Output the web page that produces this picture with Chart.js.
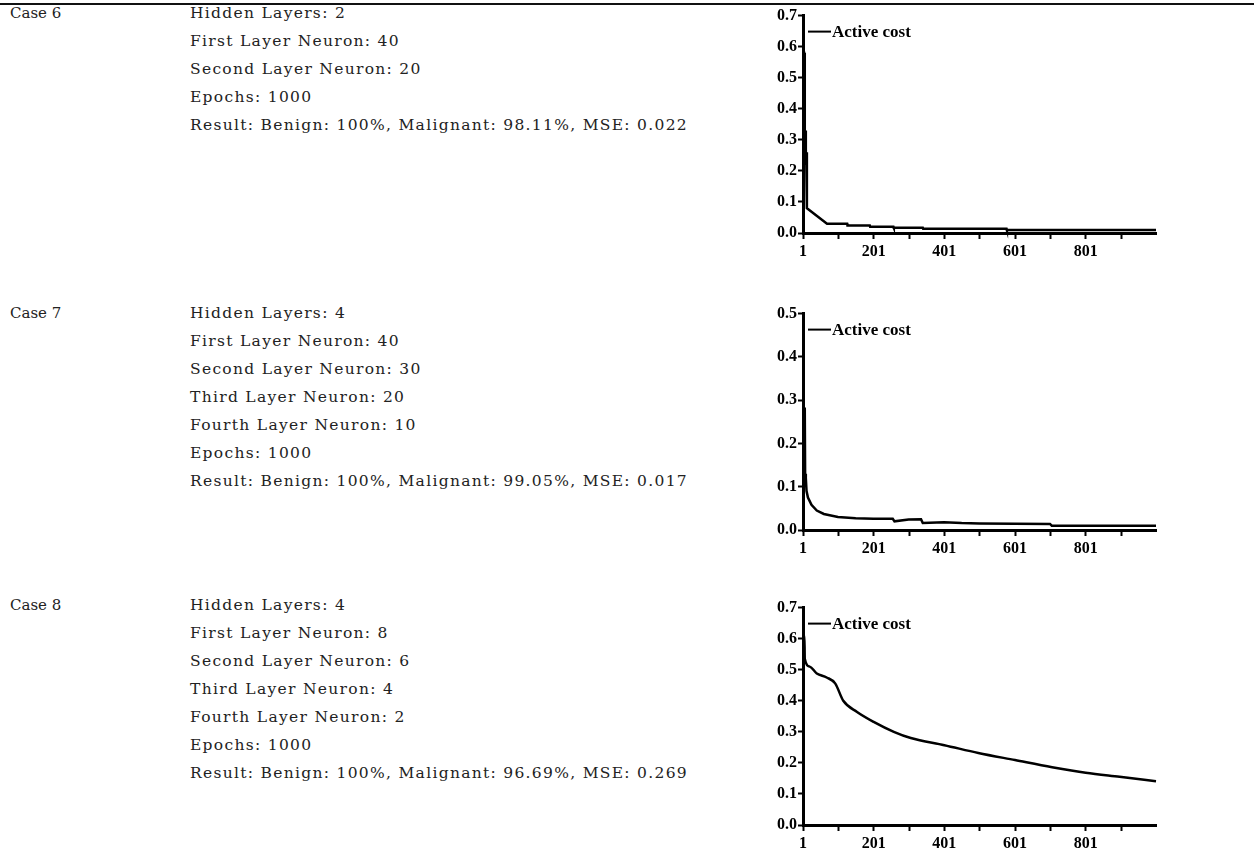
<!DOCTYPE html>
<html>
<head>
<meta charset="utf-8">
<script src="https://cdn.jsdelivr.net/npm/chart.js@4/dist/chart.umd.min.js"></script>
<style>
  html, body { margin: 0; padding: 0; background: #fff; }
  body { width: 1254px; height: 861px; position: relative; overflow: hidden; }
  .rule { position: absolute; left: 0; top: 3px; width: 1254px; height: 2px; background: #111; }
  .txt { position: absolute; font-family: "DejaVu Serif", serif; font-size: 15.5px; line-height: 20px; color: #222; white-space: nowrap; letter-spacing: 1.3px; }
  .txt.head { letter-spacing: 0; font-size: 15px; }
  canvas { position: absolute; }
</style>
</head>
<body>
<div class="rule"></div>
<div id="texts"></div>
<canvas id="chart6" width="423" height="258" style="left:743px;top:5px;width:423px;height:258px"></canvas>
<canvas id="chart7" width="423" height="257" style="left:743px;top:303px;width:423px;height:257px"></canvas>
<canvas id="chart8" width="423" height="258" style="left:743px;top:597px;width:423px;height:258px"></canvas>
<script>
// text rows of the table
const case6Lines = ['Hidden Layers: 2', 'First Layer Neuron: 40', 'Second Layer Neuron: 20', 'Epochs: 1000',
  'Result: Benign: 100%, Malignant: 98.11%, MSE: 0.022'];
const case7Lines = ['Hidden Layers: 4', 'First Layer Neuron: 40', 'Second Layer Neuron: 30', 'Third Layer Neuron: 20',
  'Fourth Layer Neuron: 10', 'Epochs: 1000', 'Result: Benign: 100%, Malignant: 99.05%, MSE: 0.017'];
const case8Lines = ['Hidden Layers: 4', 'First Layer Neuron: 8', 'Second Layer Neuron: 6', 'Third Layer Neuron: 4',
  'Fourth Layer Neuron: 2', 'Epochs: 1000', 'Result: Benign: 100%, Malignant: 96.69%, MSE: 0.269'];

// x axis ticks
const epochTicks = [1, 101, 201, 301, 401, 501, 601, 701, 801, 901];
const epochLabels = [1, 201, 401, 601, 801];

// Case 6 cost curve
const case6Epochs = [1, 4, 6, 7, 9, 10, 12, 15, 69, 126, 127, 190, 191, 257, 258, 340, 341, 577, 578, 1000];
const case6Cost = [0.58, 0.58, 0.22, 0.33, 0.25, 0.26, 0.08, 0.077, 0.03, 0.03, 0.024, 0.024, 0.02, 0.02, 0.017, 0.017, 0.014, 0.014, 0.01, 0.01];

// Case 7 cost curve
const case7Epochs = [1, 6, 7, 9, 11, 15, 25, 40, 60, 100, 150, 200, 255, 260, 300, 335, 340, 400, 450, 500, 700, 705, 1000];
const case7Cost = [0.28, 0.28, 0.13, 0.12, 0.09, 0.075, 0.058, 0.045, 0.037, 0.03, 0.027, 0.026, 0.026, 0.02, 0.024, 0.025, 0.016, 0.018, 0.016, 0.015, 0.014, 0.01, 0.01];

// Case 8 cost curve
const case8Epochs = [1, 5, 6, 20, 40, 68, 92, 115, 154, 201, 258, 306, 401, 497, 601, 706, 801, 897, 1000];
const case8Cost = [0.61, 0.61, 0.535, 0.51, 0.488, 0.475, 0.456, 0.4, 0.364, 0.332, 0.3, 0.28, 0.257, 0.232, 0.209, 0.186, 0.168, 0.155, 0.141];

function addRows(caseName, lines, top) {
  const box = document.getElementById('texts');
  const head = document.createElement('div');
  head.className = 'txt head';
  head.style.left = '10px';
  head.style.top = (top - 10) + 'px';
  head.textContent = caseName;
  box.appendChild(head);
  lines.forEach((line, i) => {
    const d = document.createElement('div');
    d.className = 'txt';
    d.style.left = '190px';
    d.style.top = (top - 10 + i * 28) + 'px';
    d.textContent = line;
    box.appendChild(d);
  });
}

addRows('Case 6', case6Lines, 13);
addRows('Case 7', case7Lines, 313);
addRows('Case 8', case8Lines, 605);

const legendLine = {
  id: 'legendLine',
  afterDraw(chart) {
    const ctx = chart.ctx;
    const a = chart.chartArea;
    const y = a.top + 16;
    ctx.save();
    ctx.strokeStyle = '#000';
    ctx.lineWidth = 2;
    ctx.beginPath();
    ctx.moveTo(a.left + 5, y);
    ctx.lineTo(a.left + 28, y);
    ctx.stroke();
    ctx.fillStyle = '#000';
    ctx.font = 'bold 17px "Liberation Serif"';
    ctx.textBaseline = 'middle';
    ctx.fillText('Active cost', a.left + 29, y + 1);
    ctx.restore();
  }
};

function makeChart(id, epochs, cost, yMax, smooth) {
  const yTicks = [];
  for (let i = 0; i <= Math.round(yMax * 10); i++) yTicks.push(i / 10);
  const points = epochs.map((e, i) => ({ x: e, y: cost[i] }));
  const tickFont = { family: 'Liberation Serif', size: 16, weight: 'bold' };
  return new Chart(document.getElementById(id), {
    type: 'line',
    data: {
      datasets: [{
        label: 'Active cost',
        data: points,
        borderColor: '#000',
        borderWidth: 2.5,
        pointRadius: 0,
        tension: smooth ? 0.4 : 0,
        cubicInterpolationMode: smooth ? 'monotone' : 'default',
        clip: false,
      }]
    },
    options: {
      responsive: false,
      animation: false,
      layout: { padding: { top: 10, right: 10, left: 0, bottom: 0 } },
      plugins: { legend: { display: false }, tooltip: { enabled: false } },
      scales: {
        x: {
          type: 'linear',
          min: 1,
          max: 1000,
          afterBuildTicks: (s) => { s.ticks = epochTicks.map(v => ({ value: v })); },
          afterFit: (s) => { s.height = 30; },
          ticks: {
            autoSkip: false,
            maxRotation: 0,
            padding: 3,
            color: '#000',
            font: tickFont,
            callback: (v) => epochLabels.includes(v) ? String(v) : '',
          },
          grid: { drawOnChartArea: false, drawTicks: true, tickLength: 6, tickWidth: 2, tickColor: '#000' },
          border: { display: true, color: '#000', width: 3 },
        },
        y: {
          min: 0,
          max: yMax,
          afterBuildTicks: (s) => { s.ticks = yTicks.map(v => ({ value: v })); },
          afterFit: (s) => { s.width = 60; },
          ticks: {
            padding: 1,
            color: '#000',
            font: tickFont,
            callback: (v) => v.toFixed(1),
          },
          grid: { drawOnChartArea: false, drawTicks: true, tickLength: 5, tickWidth: 2, tickColor: '#000' },
          border: { display: true, color: '#000', width: 3 },
        }
      }
    },
    plugins: [legendLine]
  });
}

makeChart('chart6', case6Epochs, case6Cost, 0.7, false);
makeChart('chart7', case7Epochs, case7Cost, 0.5, false);
makeChart('chart8', case8Epochs, case8Cost, 0.7, true);
</script>
</body>
</html>
